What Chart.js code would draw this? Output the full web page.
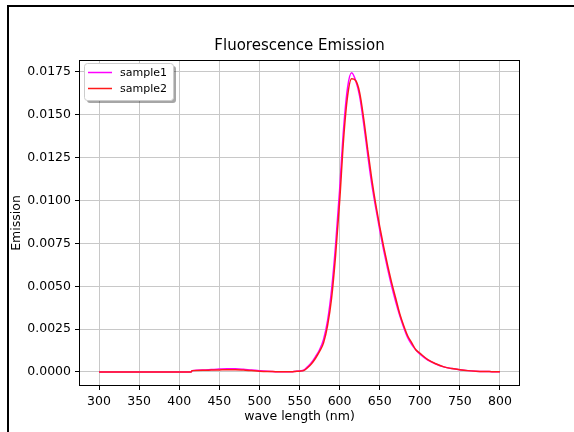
<!DOCTYPE html>
<html>
<head>
<meta charset="utf-8">
<script src="https://cdn.jsdelivr.net/npm/chart.js@4.4.1/dist/chart.umd.min.js"></script>
<style>
  html, body { margin: 0; padding: 0; background: #fff; }
  #wrap { position: relative; width: 574px; height: 432px; overflow: hidden; }
  #chart { position: absolute; left: 0; top: 0; }
  #edge { position: absolute; left: 7px; top: 5px; width: 700px; height: 600px;
          border-left: 2px solid #000; border-top: 2px solid #000; pointer-events: none; }
</style>
</head>
<body>
<div id="wrap">
  <canvas id="chart" width="574" height="432"></canvas>
  <div id="edge"></div>
</div>
<script>
// wavelengths shared by both samples (nm)
const waveLength = [300, 415, 416, 430, 440, 450, 460, 470, 480, 490, 500, 510, 520, 530, 540, 545,
  550, 555, 560, 565, 570, 575, 580, 585, 590, 595, 600, 605, 610, 615, 620, 625, 630, 635, 640,
  645, 650, 655, 660, 665, 670, 675, 680, 685, 690, 695, 700, 710, 720, 730, 740, 750, 760, 770,
  780, 790, 800];

const sample1 = [0, 0, 0.00008, 0.00011, 0.00014, 0.00017, 0.00019, 0.00019, 0.00016, 0.00011,
  0.00007, 0.00004, 0.00002, 0.00001, 0.00002, 0.00004,
  0.00006, 0.0001, 0.0003, 0.00055, 0.0009, 0.0013, 0.0019, 0.003, 0.0048, 0.0074, 0.0106, 0.0142,
  0.0166, 0.01745, 0.0170, 0.0161, 0.0145, 0.0127, 0.0110,
  0.0096, 0.0083, 0.0071, 0.0060, 0.0050, 0.0041, 0.0033, 0.0026, 0.0020, 0.0016, 0.0013, 0.00105,
  0.0007, 0.00047, 0.0003, 0.0002, 0.00013, 0.00008, 0.00005,
  0.00003, 0.00002, 0.00001];

const sample2 = [0, 0, 0.00008, 0.0001, 0.00011, 0.00012, 0.00013, 0.00013, 0.00011, 0.00008,
  0.00005, 0.00003, 0.00002, 0.00001, 0.00001, 0.00003,
  0.00005, 0.00008, 0.00025, 0.00048, 0.0008, 0.0012, 0.0017, 0.0027, 0.0043, 0.0068, 0.0099, 0.0136,
  0.0161, 0.0171, 0.0170, 0.0163, 0.0148, 0.0130, 0.0113,
  0.0098, 0.0085, 0.0073, 0.0062, 0.0052, 0.0043, 0.0034, 0.0027, 0.0021, 0.0017, 0.0013, 0.0011,
  0.00072, 0.00048, 0.0003, 0.0002, 0.00013, 0.00008, 0.00005,
  0.00003, 0.00002, 0.00001];

const xTicks = [300, 350, 400, 450, 500, 550, 600, 650, 700, 750, 800];
const yTicks = [0, 0.0025, 0.005, 0.0075, 0.01, 0.0125, 0.015, 0.0175];
const chartTitle = 'Fluorescence Emission';

const FONT = "'DejaVu Sans', sans-serif";

const toPoints = ys => waveLength.map((x, i) => ({ x: x, y: ys[i] }));

// matplotlib-like frame, title over the axes and the boxed legend
const mplPlugin = {
  id: 'mplFrame',
  afterDraw(chart) {
    const ctx = chart.ctx;
    const a = chart.chartArea;
    ctx.save();
    ctx.strokeStyle = '#000';
    ctx.lineWidth = 1;
    ctx.strokeRect(Math.round(a.left) + 0.5, Math.round(a.top) + 0.5,
      Math.round(a.right - a.left) - 1, Math.round(a.bottom - a.top) - 1);

    ctx.fillStyle = '#000';
    ctx.font = '15px ' + FONT;
    ctx.textAlign = 'center';
    ctx.textBaseline = 'middle';
    ctx.fillText(chartTitle, (a.left + a.right) / 2, 46);

    // legend
    const bx = 84, by = 63, bw = 89, bh = 37;
    ctx.fillStyle = 'rgba(0,0,0,0.35)';
    ctx.beginPath();
    ctx.roundRect(bx + 3, by + 3, bw, bh, 3);
    ctx.fill();
    ctx.fillStyle = '#fff';
    ctx.strokeStyle = '#cccccc';
    ctx.beginPath();
    ctx.roundRect(bx + 0.5, by + 0.5, bw, bh, 3);
    ctx.fill();
    ctx.stroke();
    ctx.font = '11px ' + FONT;
    ctx.textAlign = 'left';
    chart.data.datasets.forEach((ds, i) => {
      const ly = by + 9.5 + i * 16;
      ctx.strokeStyle = ds.borderColor;
      ctx.lineWidth = 1.5;
      ctx.beginPath();
      ctx.moveTo(bx + 4, ly);
      ctx.lineTo(bx + 28, ly);
      ctx.stroke();
      ctx.fillStyle = '#000';
      ctx.fillText(ds.label, bx + 36, ly + 0.5);
    });
    ctx.restore();
  }
};

new Chart(document.getElementById('chart'), {
  type: 'line',
  data: {
    datasets: [
      { label: 'sample1', data: toPoints(sample1), borderColor: '#ff00ff', borderWidth: 1.5,
        pointRadius: 0, fill: false, cubicInterpolationMode: 'monotone', order: 1 },
      { label: 'sample2', data: toPoints(sample2), borderColor: '#ff1a1a', borderWidth: 1.5,
        pointRadius: 0, fill: false, cubicInterpolationMode: 'monotone', order: 0 }
    ]
  },
  options: {
    responsive: false,
    animation: false,
    layout: { padding: { left: 0, right: 54, top: 60, bottom: 0 } },
    scales: {
      x: {
        type: 'linear', min: 275, max: 825,
        afterFit: s => { s.height = 46; },
        afterBuildTicks: s => { s.ticks = xTicks.map(v => ({ value: v })); },
        ticks: { color: '#000', font: { family: FONT, size: 12.5 }, padding: 4, maxRotation: 0,
                 callback: v => String(v) },
        grid: { color: '#c8c8c8', lineWidth: 1, tickColor: '#000', tickLength: 4, tickWidth: 1 },
        border: { display: false },
        title: { display: true, text: 'wave length (nm)', color: '#000',
                 font: { family: FONT, size: 12.5 }, padding: { top: 0, bottom: 7.5 } }
      },
      y: {
        type: 'linear', min: -0.000817, max: 0.0182,
        afterFit: s => { s.width = 79; },
        afterBuildTicks: s => { s.ticks = yTicks.map(v => ({ value: v })); },
        ticks: { color: '#000', font: { family: FONT, size: 12.5 }, padding: 4,
                 callback: v => v.toFixed(4) },
        grid: { color: '#c8c8c8', lineWidth: 1, tickColor: '#000', tickLength: 4, tickWidth: 1 },
        border: { display: false },
        title: { display: true, text: 'Emission', color: '#000',
                 font: { family: FONT, size: 12.5 }, padding: { top: 9.5, bottom: 0 } }
      }
    },
    plugins: {
      legend: { display: false },
      tooltip: { enabled: false },
      title: { display: false }
    }
  },
  plugins: [mplPlugin]
});
</script>
</body>
</html>
